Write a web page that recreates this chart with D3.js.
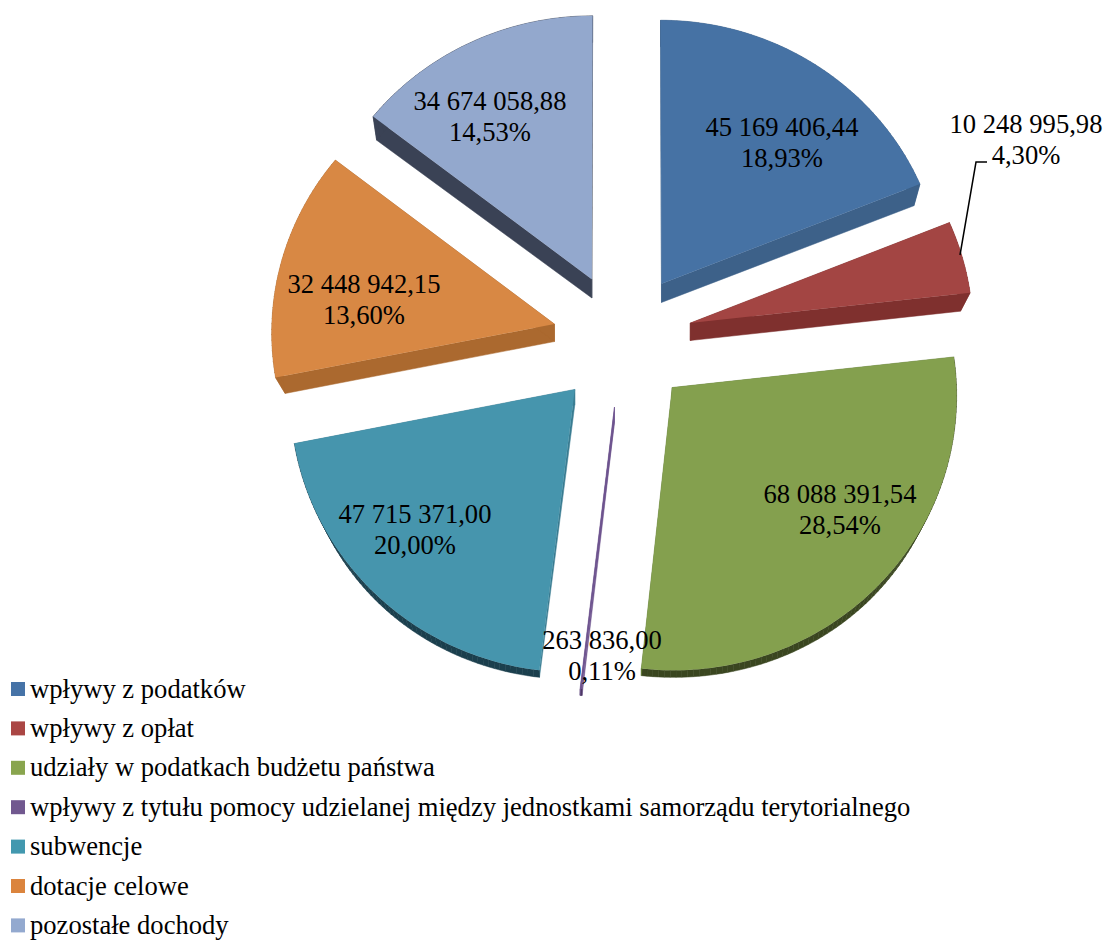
<!DOCTYPE html>
<html>
<head>
<meta charset="utf-8">
<style>
body {
  margin: 0;
  background: #fff;
  overflow: hidden;
}
text {
  font-family: "Liberation Serif", serif;
  fill: #000;
}
</style>
</head>
<body>
<svg width="1105" height="940"></svg>
<script src="https://d3js.org/d3.v7.min.js"></script>
<script>
var categories = [
  "wpływy z podatków",
  "wpływy z opłat",
  "udziały w podatkach budżetu państwa",
  "wpływy z tytułu pomocy udzielanej między jednostkami samorządu terytorialnego",
  "subwencje",
  "dotacje celowe",
  "pozostałe dochody"
];
var values = [45169406.44, 10248995.98, 68088391.54, 263836.00, 47715371.00, 32448942.15, 34674058.88];

var topColors  = ["#4672a4", "#a34543", "#84a04e", "#6e548f", "#4695ad", "#d88844", "#93a8cd"];
var sideColors = ["#3d6189", "#7f302e", "#5e7a30", "#6e548f", "#3a7d92", "#ab692f", "#3a4255"];
var rimColors  = ["#3d6189", "#7f302e", "#3a4620", "#4a3763", "#1b3f4d", "#ab692f", "#3a4255"];
var keyColors  = ["#4673a7", "#aa4644", "#89a54e", "#71588f", "#4298af", "#db843d", "#93a9cf"];

// label centre x and first baseline, by hand from the picture
var labelX = [782, 1026, 840, 602, 415, 364, 490];
var labelY = [136, 133, 503, 649, 523, 293, 110];

var pl = d3.formatLocale({decimal: ",", thousands: " ", grouping: [3], currency: ["", ""], percent: "%"});
var fmtValue = pl.format(",.2f"),
    fmtPct = pl.format(".2%");

var svg = d3.select("svg");

var cx = 622.5, cy = 339.5,
    radius = 283, explode = 70,
    tilt = 0.966, persp = 0.00009,
    depth = 17, shrink = 0.97;

// flat pie plane -> screen, relative to the pie centre
function project(x, y) {
  var s = 1 + y * persp;
  return [x * s, y * tilt * s];
}
// bottom face of the extrusion: pulled in towards the middle, more so far out
function lower(p) {
  var f = p[0] / 330;
  return [p[0] * (1 - 0.025 * f * f), p[1] * shrink + depth];
}

var total = d3.sum(values);
var pie = d3.pie().sort(null).value(function(d) { return d; });
var line = d3.line();

var g = svg.append("g").attr("transform", "translate(" + cx + "," + cy + ")");

pie(values).forEach(function(d, i) {
  var mid = (d.startAngle + d.endAngle) / 2,
      ox = Math.sin(mid) * explode,
      oy = -Math.cos(mid) * explode;

  var n = Math.max(2, Math.ceil((d.endAngle - d.startAngle) / 0.02));
  var rim = d3.range(n + 1).map(function(k) {
    var a = d.startAngle + (d.endAngle - d.startAngle) * k / n;
    return project(ox + Math.sin(a) * radius, oy - Math.cos(a) * radius);
  });
  var apex = project(ox, oy);
  var outline = [apex].concat(rim);
  var under = outline.map(lower);

  var slice = g.append("g").attr("class", "slice");

  // side walls and the outer rim, one quad per outline segment
  d3.range(outline.length).forEach(function(k) {
    var j = (k + 1) % outline.length;
    var radial = k === 0 || j === 0;
    var c = radial ? sideColors[i] : rimColors[i];
    slice.append("path")
        .attr("d", line([outline[k], outline[j], under[j], under[k]]) + "Z")
        .attr("fill", c)
        .attr("stroke", c)
        .attr("stroke-width", 0.5);
  });

  slice.append("path")
      .attr("d", line(outline) + "Z")
      .attr("fill", topColors[i]);
});

// leader line of the small red slice
svg.append("path")
    .attr("d", line([[960, 255], [976, 162], [987, 162]]))
    .attr("fill", "none")
    .attr("stroke", "#000")
    .attr("stroke-width", 1.5);

var labels = svg.selectAll(".label")
    .data(values)
    .enter().append("text")
    .attr("class", "label")
    .attr("text-anchor", "middle")
    .style("font-size", "26.6px");

labels.append("tspan")
    .attr("x", function(d, i) { return labelX[i]; })
    .attr("y", function(d, i) { return labelY[i]; })
    .text(function(d) { return fmtValue(d); });

labels.append("tspan")
    .attr("x", function(d, i) { return labelX[i]; })
    .attr("y", function(d, i) { return labelY[i] + 30.5; })
    .text(function(d) { return fmtPct(d / total); });

var legend = svg.selectAll(".key")
    .data(categories)
    .enter().append("g")
    .attr("class", "key")
    .attr("transform", function(d, i) { return "translate(11," + (682 + i * 39.4) + ")"; });

legend.append("rect")
    .attr("width", 14)
    .attr("height", 14)
    .attr("fill", function(d, i) { return keyColors[i]; });

legend.append("text")
    .attr("x", 19)
    .attr("y", 15.5)
    .style("font-size", "26.6px")
    .text(function(d) { return d; });
</script>
</body>
</html>
